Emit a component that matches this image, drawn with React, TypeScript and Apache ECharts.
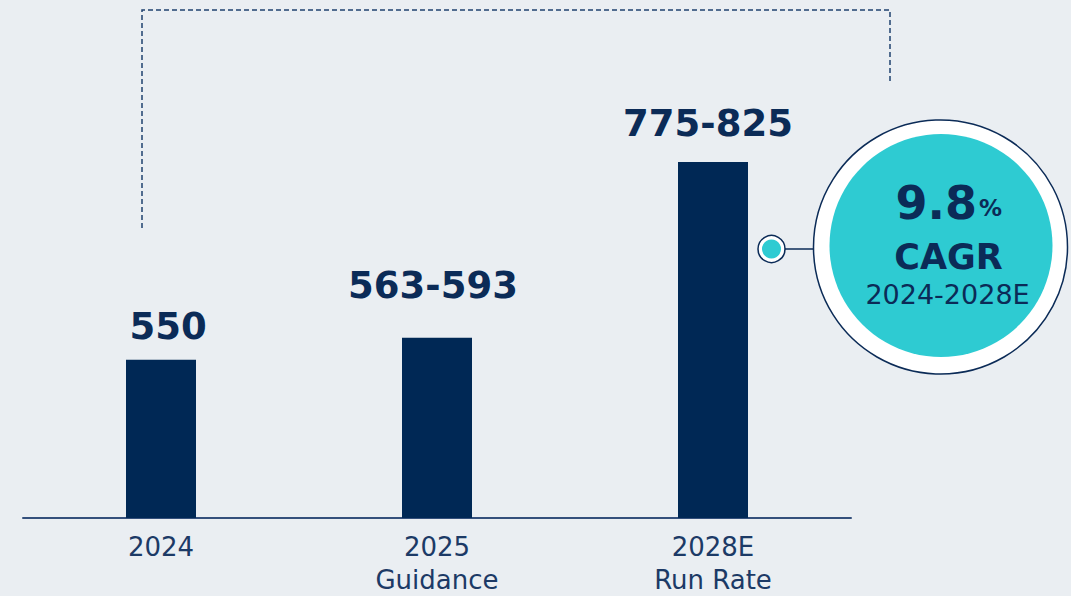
import React, { useEffect, useRef } from "react";
import * as echarts from "echarts";

const categories = ["2024", "2025\nGuidance", "2028E\nRun Rate"];
const barValues = [550, 578, 800];
const barLabels = ["550", "563-593", "775-825"];
const cagrValue = "9.8";
const cagrUnit = "%";
const cagrTitle = "CAGR";
const cagrPeriod = "2024-2028E";

const NAVY = "#002855";
const TEXT_NAVY = "#0b2b57";
const AXIS_TEXT = "#1c3a66";
const TEAL = "#2ecbd2";
const BG = "#eaeef2";
const FONT = "'DejaVu Sans', sans-serif";

export default function App() {
  const ref = useRef<HTMLDivElement>(null);

  useEffect(() => {
    if (!ref.current) return;
    const chart = echarts.init(ref.current, undefined, { renderer: "svg" });
    const labelDistances = [15, 34, 20];
    const labelShifts = [7, -4, -5];

    chart.setOption({
      animation: false,
      backgroundColor: BG,
      grid: { left: 23, width: 828, top: 83, bottom: 76.5, containLabel: false },
      xAxis: {
        type: "category",
        data: categories,
        axisLine: { show: true, lineStyle: { color: "#34507c", width: 2 } },
        axisTick: { show: false },
        axisLabel: {
          color: AXIS_TEXT,
          fontFamily: FONT,
          fontSize: 26,
          lineHeight: 33,
          margin: 12,
        },
      },
      yAxis: {
        type: "value",
        min: 350,
        max: 900,
        show: false,
        splitLine: { show: false },
      },
      series: [
        {
          type: "bar",
          barWidth: 70,
          itemStyle: { color: NAVY },
          data: barValues.map((v, i) => ({
            value: v,
            label: {
              show: true,
              position: "top",
              distance: labelDistances[i],
              offset: [labelShifts[i], 0],
              formatter: barLabels[i],
              color: TEXT_NAVY,
              fontFamily: FONT,
              fontWeight: "bold",
              fontSize: 37,
            },
          })),
        },
      ],
      graphic: [
        {
          type: "polyline",
          shape: { points: [[142, 228], [142, 10], [890, 10], [890, 84]] },
          style: { stroke: "#1f416f", lineWidth: 1.5, lineDash: [5, 3], fill: null },
          z: 10,
        },
        {
          type: "line",
          shape: { x1: 785, y1: 249, x2: 814, y2: 249 },
          style: { stroke: TEXT_NAVY, lineWidth: 1.5 },
          z: 10,
        },
        {
          type: "circle",
          shape: { cx: 771.5, cy: 249, r: 13.5 },
          style: { fill: "#ffffff", stroke: TEXT_NAVY, lineWidth: 1.5 },
          z: 11,
        },
        {
          type: "circle",
          shape: { cx: 771.5, cy: 249, r: 9.5 },
          style: { fill: TEAL },
          z: 12,
        },
        {
          type: "circle",
          shape: { cx: 940.5, cy: 247, r: 127 },
          style: { fill: "#ffffff", stroke: TEXT_NAVY, lineWidth: 1.5 },
          z: 11,
        },
        {
          type: "circle",
          shape: { cx: 941, cy: 245.5, r: 111.5 },
          style: { fill: TEAL },
          z: 12,
        },
        {
          type: "text",
          x: 977,
          y: 202.5,
          style: {
            text: cagrValue,
            fill: TEXT_NAVY,
            font: `bold 46px ${FONT}`,
            textAlign: "right",
            textVerticalAlign: "middle",
          },
          z: 13,
        },
        {
          type: "text",
          x: 979,
          y: 208,
          style: {
            text: cagrUnit,
            fill: TEXT_NAVY,
            font: `bold 23px ${FONT}`,
            textAlign: "left",
            textVerticalAlign: "middle",
          },
          z: 13,
        },
        {
          type: "text",
          x: 948.5,
          y: 257,
          style: {
            text: cagrTitle,
            fill: TEXT_NAVY,
            font: `bold 35px ${FONT}`,
            textAlign: "center",
            textVerticalAlign: "middle",
          },
          z: 13,
        },
        {
          type: "text",
          x: 947.5,
          y: 294,
          style: {
            text: cagrPeriod,
            fill: TEXT_NAVY,
            font: `27px ${FONT}`,
            textAlign: "center",
            textVerticalAlign: "middle",
          },
          z: 13,
        },
      ],
    });

    return () => chart.dispose();
  }, []);

  return (
    <div
      ref={ref}
      style={{ position: "fixed", left: 0, top: 0, width: 1071, height: 596 }}
    />
  );
}
